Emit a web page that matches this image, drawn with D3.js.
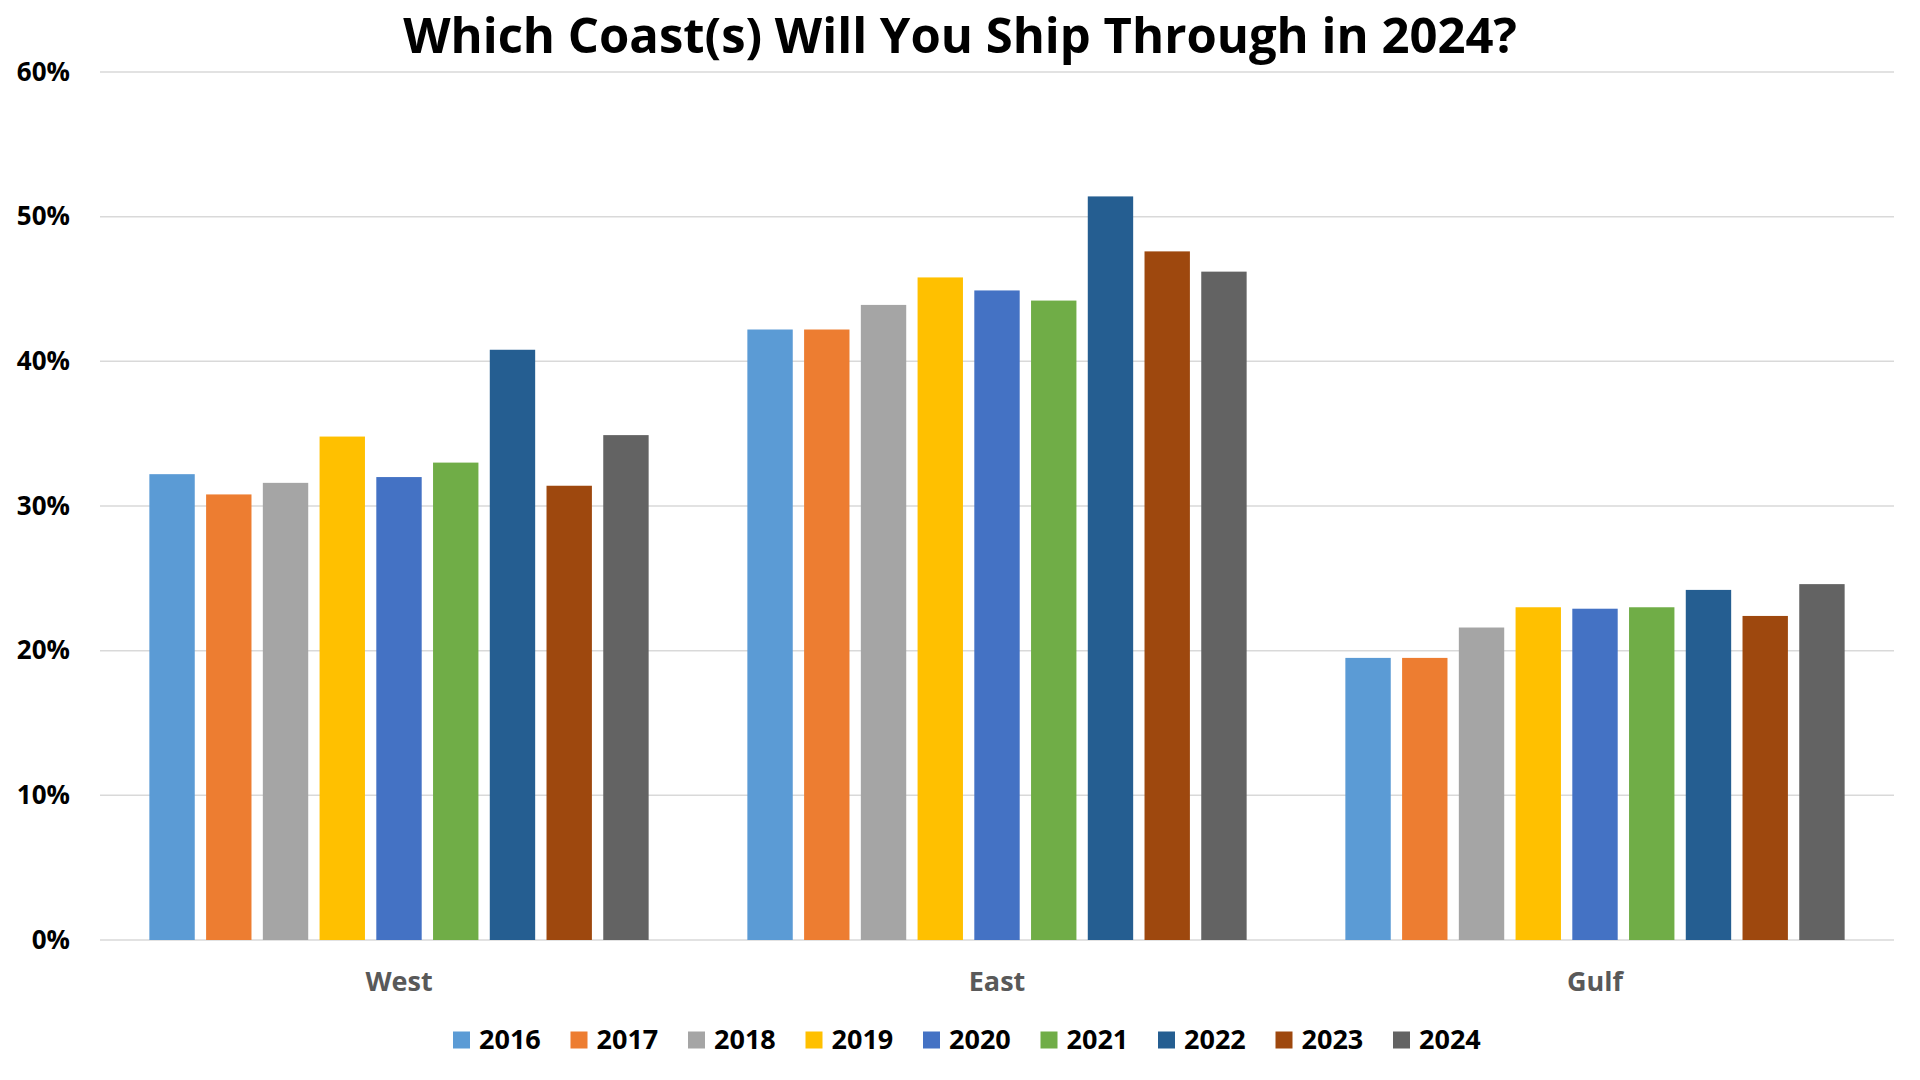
<!DOCTYPE html>
<html>
<head>
<meta charset="utf-8">
<script src="https://cdn.jsdelivr.net/npm/d3@7"></script>
<style>
  html, body { margin: 0; padding: 0; background: #fff; }
  svg { display: block; }
  text { font-family: "Open Sans", "Noto Sans", sans-serif; font-weight: 700; }
</style>
</head>
<body>
<svg id="chart" width="1920" height="1080"></svg>
<script>
const categories = ["West", "East", "Gulf"];
const years = ["2016", "2017", "2018", "2019", "2020", "2021", "2022", "2023", "2024"];
const west = [32.2, 30.8, 31.6, 34.8, 32.0, 33.0, 40.8, 31.4, 34.9];
const east = [42.2, 42.2, 43.9, 45.8, 44.9, 44.2, 51.4, 47.6, 46.2];
const gulf = [19.5, 19.5, 21.6, 23.0, 22.9, 23.0, 24.2, 22.4, 24.6];
const yTicks = [0, 10, 20, 30, 40, 50, 60];
const colors = ["#5B9BD5", "#ED7D31", "#A5A5A5", "#FFC000", "#4472C4", "#70AD47", "#255E91", "#9E480E", "#636363"];
const title = "Which Coast(s) Will You Ship Through in 2024?";

const seriesByCat = { West: west, East: east, Gulf: gulf };

const svg = d3.select("#chart");
const margin = { left: 100, right: 26, top: 72, bottom: 140 };
const W = 1920, H = 1080;

const x0 = d3.scaleBand().domain(categories).range([margin.left, W - margin.right]).padding(0);
const x1 = d3.scaleBand().domain(years).range([0, x0.bandwidth()]).paddingInner(0.2).paddingOuter(0.87);
const y = d3.scaleLinear().domain([0, 60]).range([H - margin.bottom, margin.top]);
const color = d3.scaleOrdinal().domain(years).range(colors);

// gridlines
svg.append("g").selectAll("line").data(yTicks).join("line")
  .attr("x1", margin.left).attr("x2", W - margin.right)
  .attr("y1", d => y(d)).attr("y2", d => y(d))
  .attr("stroke", "#D9D9D9").attr("stroke-width", 1.5);

// y axis labels
const yAxis = d3.axisLeft(y).tickValues(yTicks).tickFormat(d => d + "%").tickSize(0).tickPadding(0);
const ya = svg.append("g").attr("transform", `translate(70,0)`).call(yAxis);
ya.select(".domain").remove();
ya.selectAll("text").attr("font-size", 26).attr("fill", "#000").attr("font-family", "'Open Sans', sans-serif").attr("font-weight", 700);

// bars
const groups = svg.append("g").selectAll("g").data(categories).join("g")
  .attr("transform", d => `translate(${x0(d)},0)`);
groups.selectAll("rect")
  .data(c => years.map((yr, i) => ({ yr, v: seriesByCat[c][i] })))
  .join("rect")
  .attr("x", d => x1(d.yr))
  .attr("width", x1.bandwidth())
  .attr("y", d => y(d.v))
  .attr("height", d => y(0) - y(d.v))
  .attr("fill", d => color(d.yr));

// x axis labels
const xAxis = d3.axisBottom(x0).tickSize(0).tickPadding(0);
const xa = svg.append("g").attr("transform", `translate(0,${y(0) + 48})`).call(xAxis);
xa.select(".domain").remove();
xa.selectAll("text").attr("font-size", 27).attr("fill", "#595959").attr("font-family", "'Open Sans', sans-serif").attr("font-weight", 700).attr("dy", "0.1em");

// title
svg.append("text").attr("x", 960).attr("y", 53).attr("text-anchor", "middle")
  .attr("font-size", 49).attr("fill", "#000").text(title);

// legend
const legX = 453, legStep = 117.5, legY = 1040;
const leg = svg.append("g").selectAll("g").data(years).join("g")
  .attr("transform", (d, i) => `translate(${legX + i * legStep},${legY})`);
leg.append("rect").attr("x", 0).attr("y", -8.5).attr("width", 17).attr("height", 17).attr("fill", d => color(d));
leg.append("text").attr("x", 26).attr("y", 0).attr("dy", "0.35em")
  .attr("font-size", 27).attr("fill", "#000").text(d => d);
</script>
</body>
</html>
